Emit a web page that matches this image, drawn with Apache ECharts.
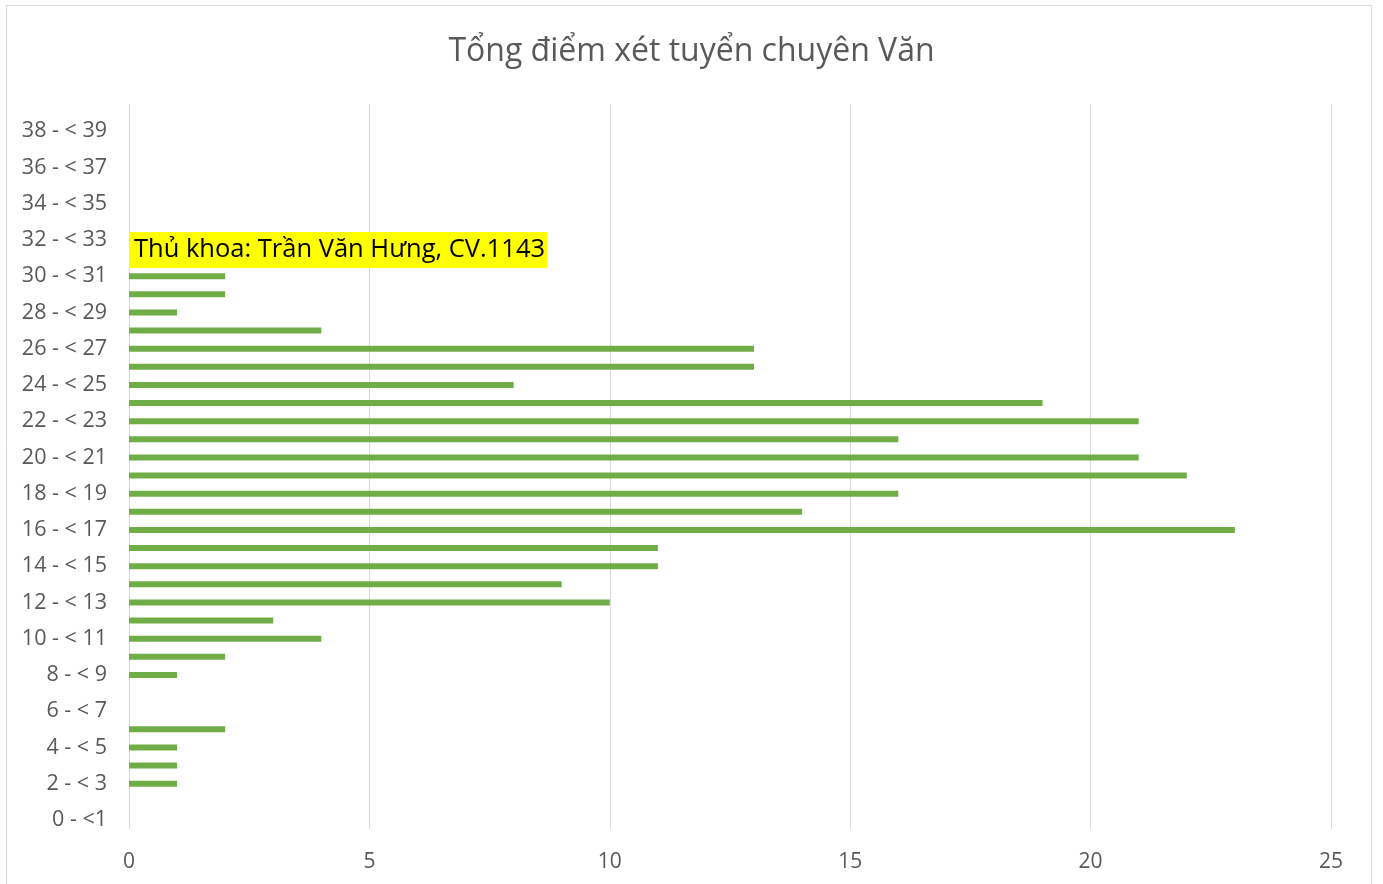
<!DOCTYPE html>
<html>
<head>
<meta charset="utf-8">
<script src="https://cdn.jsdelivr.net/npm/echarts@6/dist/echarts.min.js"></script>
<style>
  html, body { margin: 0; padding: 0; background: #fff; }
  #chart { width: 1383px; height: 884px; }
</style>
</head>
<body>
<div id="chart"></div>
<script>
// khoảng điểm (trục dọc)
const categories = [
  '0 - <1', '1 - < 2', '2 - < 3', '3 - < 4', '4 - < 5', '5 - < 6', '6 - < 7', '7 - < 8',
  '8 - < 9', '9 - < 10', '10 - < 11', '11 - < 12', '12 - < 13', '13 - < 14', '14 - < 15',
  '15 - < 16', '16 - < 17', '17 - < 18', '18 - < 19', '19 - < 20', '20 - < 21', '21 - < 22',
  '22 - < 23', '23 - < 24', '24 - < 25', '25 - < 26', '26 - < 27', '27 - < 28', '28 - < 29',
  '29 - < 30', '30 - < 31', '31 - < 32', '32 - < 33', '33 - < 34', '34 - < 35', '35 - < 36',
  '36 - < 37', '37 - < 38', '38 - < 39', '39 - < 40'
];
// số thí sinh trong mỗi khoảng
const counts = [
  0, 0, 1, 1, 1, 2, 0, 0, 1, 2, 4, 3, 10, 9, 11, 11, 23, 14, 16, 22,
  21, 16, 21, 19, 8, 13, 13, 4, 1, 2, 2, 1, 0, 0, 0, 0, 0, 0, 0, 0
];
const xTicks = [0, 5, 10, 15, 20, 25];
const titleText = 'Tổng điểm xét tuyển chuyên Văn';
const noteCategory = '31 - < 32';
const noteText = 'Thủ khoa: Trần Văn Hưng, CV.1143';

const chart = echarts.init(document.getElementById('chart'));
const font = '"Open Sans", "Noto Sans", sans-serif';

// nhãn thủ khoa gắn vào cột của khoảng điểm tương ứng
const noteIndex = categories.indexOf(noteCategory);
const barData = counts.map((v, i) => i !== noteIndex ? v : {
  value: v,
  label: {
    show: true,
    position: [0, 3],
    align: 'left',
    verticalAlign: 'middle',
    offset: [0, -8],
    formatter: noteText,
    color: '#000',
    fontSize: 25.5,
    lineHeight: 30,
    fontFamily: font,
    backgroundColor: '#ffff00',
    padding: [3, 2, 3, 5]
  }
});

chart.setOption({
  animation: false,
  textStyle: { fontFamily: font },
  title: {
    text: titleText,
    left: 'center',
    top: 31,
    textStyle: { fontSize: 32, fontWeight: 'normal', color: '#595959', fontFamily: font }
  },
  graphic: [{
    type: 'rect',
    shape: { x: 6.5, y: 5.5, width: 1365, height: 900 },
    style: { fill: 'none', stroke: '#d9d9d9', lineWidth: 1 },
    silent: true
  }],
  grid: { left: 129, right: 52, top: 104, bottom: 55 },
  xAxis: {
    type: 'value',
    min: xTicks[0],
    max: xTicks[xTicks.length - 1],
    interval: 5,
    axisLine: { show: false },
    axisTick: { show: false },
    splitLine: { lineStyle: { color: '#d9d9d9', width: 1 } },
    axisLabel: { color: '#595959', fontSize: 21, margin: 23, fontFamily: font }
  },
  yAxis: {
    type: 'category',
    data: categories,
    axisLine: { show: false },
    axisTick: { show: false },
    axisLabel: { interval: 1, color: '#595959', fontSize: 21.5, margin: 22, fontFamily: font }
  },
  series: [{
    type: 'bar',
    data: barData,
    barWidth: 6,
    itemStyle: { color: '#70ad47' }
  }]
});
</script>
</body>
</html>
